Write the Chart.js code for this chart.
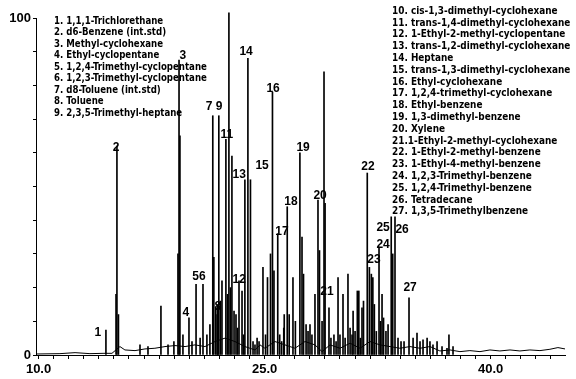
<!DOCTYPE html>
<html><head><meta charset="utf-8">
<script src="https://cdn.jsdelivr.net/npm/chart.js@4.4.1/dist/chart.umd.min.js"></script>
<style>html,body{margin:0;padding:0;background:#fff}#wrap{width:576px;height:379px}</style>
</head><body><div id="wrap"><canvas id="c" width="576" height="379"></canvas></div>
<script>
// Retention time (min) and relative abundance of the peaks
const peakTimes = [14.47,15.14,15.20,15.30,16.73,17.26,18.12,18.59,18.98,19.25,19.32,19.38,19.58,19.98,20.18,20.45,20.72,20.91,21.17,21.37,
  21.56,21.63,21.76,21.85,21.89,21.96,22.07,22.17,22.43,22.54,22.63,22.73,22.83,22.97,23.10,23.20,23.30,23.50,23.60,23.69,23.89,24.06,
  24.23,24.36,24.50,24.63,24.89,25.06,25.19,25.39,25.52,25.62,25.87,26.00,26.13,26.27,26.30,26.50,26.63,26.88,27.04,27.34,27.48,27.58,
  27.75,27.88,28.01,28.14,28.34,28.54,28.64,28.81,28.94,29.01,29.27,29.40,29.60,29.74,29.87,30.00,30.20,30.34,30.53,30.67,30.80,30.87,
  31.00,31.15,31.25,31.35,31.46,31.56,31.81,31.95,32.08,32.18,32.28,32.41,32.59,32.69,32.79,32.89,33.05,33.19,33.40,33.50,33.65,33.85,
  34.05,34.25,34.58,34.85,35.11,35.31,35.51,35.78,35.97,36.17,36.44,36.77,37.10,37.23,37.50];
const peakHeights = [7.4,18,62,12,3,2.5,14.5,3,4,30,87.5,65,6,11,4,21,5,21,6,9,
  71,29,14,12,15,71,16,22,64,18,101.5,20,59,13,12,8,22,19,6,52,88,52,
  4,3,5,4,26,6,23,30,78,25,36,6,4,8,12,44,12,23,10,60,35,24,
  9,7,9,6,18,46,31,10,84,45,14,5,6,4,23,6,18,5,24,8,6,13,
  7,19,19,5,14,16,54,26,24,23,15,7,32,10,18,11,7,9,41,30,41,5,
  4,4,17,5,6.5,4,4.5,5,4,3,4,2.5,2,6,2.5];
// Baseline of the trace
const baseTimes = [9.83,11.42,12.42,13.41,14.34,14.87,15.40,15.73,16.40,17.06,17.72,18.39,19.05,19.72,20.38,21.04,21.71,22.37,23.03,23.69,
  24.36,24.69,25.02,25.68,26.35,27.01,27.68,28.34,28.81,29.34,30.00,30.67,31.33,31.99,32.65,33.32,33.98,34.64,35.31,35.97,36.63,37.30,
  37.96,38.62,39.29,39.95,40.61,41.28,41.94,42.60,43.27,43.93,44.46,44.93];
const baseValues = [0.3,0.4,0.7,0.4,0.5,0.5,2.5,1.5,1.3,1.8,2.0,2.5,2.8,2.5,3,2.5,4,5,4,2.5,
  1.5,3,2,4,3,2,4,3,1,3,2,3.5,2,4,3,2.5,2,2.5,2,2.5,1.2,1.5,
  1,1.3,1,1.5,1.2,1.5,1.2,1.5,1.3,1.7,2.2,1.8];
// Peak number labels: text, time and height where it sits
const labelText = ["1","2","3","4","56","7","8","9","11","12","13","14","15","16","17","18","19","20","21","22","23","24","25","26","27"];
const labelTime = [13.94,15.14,19.58,19.78,20.64,21.31,21.90,21.97,22.50,23.31,23.31,23.77,24.83,25.56,26.15,26.75,27.55,28.68,29.14,31.86,32.26,32.86,32.86,34.12,34.65];
const labelHeight = [6.5,61.4,88.7,12.5,23.1,73.6,14.2,73.6,65.3,22.3,53.4,89.9,56.1,78.9,36.5,45.4,61.4,47.2,18.7,55.8,28.2,32.6,37.7,37.1,19.9];
// Compound list
const legendLeft = ["1. 1,1,1-Trichlorethane","2. d6-Benzene (int.std)","3. Methyl-cyclohexane","4. Ethyl-cyclopentane",
  "5. 1,2,4-Trimethyl-cyclopentane","6. 1,2,3-Trimethyl-cyclopentane","7. d8-Toluene (int.std)","8. Toluene","9. 2,3,5-Trimethyl-heptane"];
const legendRight = ["10. cis-1,3-dimethyl-cyclohexane","11. trans-1,4-dimethyl-cyclohexane","12. 1-Ethyl-2-methyl-cyclopentane",
  "13. trans-1,2-dimethyl-cyclohexane","14. Heptane","15. trans-1,3-dimethyl-cyclohexane","16. Ethyl-cyclohexane",
  "17. 1,2,4-trimethyl-cyclohexane","18. Ethyl-benzene","19. 1,3-dimethyl-benzene","20. Xylene","21.1-Ethyl-2-methyl-cyclohexane",
  "22. 1-Ethyl-2-methyl-benzene","23. 1-Ethyl-4-methyl-benzene","24. 1,2,3-Trimethyl-benzene","25. 1,2,4-Trimethyl-benzene",
  "26. Tetradecane","27. 1,3,5-Trimethylbenzene"];
const xLabels = [10, 25, 40];
const yLabels = [0, 100];

const NARROW = "'Liberation Sans Narrow','DejaVu Sans Condensed','Liberation Sans',sans-serif";
const annot = {
  id: 'annot',
  afterDatasetsDraw(chart) {
    const ctx = chart.ctx, xs = chart.scales.x, ys = chart.scales.y;
    ctx.save();
    ctx.fillStyle = '#000';
    ctx.textBaseline = 'middle';
    ctx.textAlign = 'center';
    ctx.font = "bold 12px 'Liberation Sans',Arial,sans-serif";
    labelText.forEach((t, i) => {
      ctx.fillText(t, xs.getPixelForValue(labelTime[i]), ys.getPixelForValue(labelHeight[i]));
    });
    ctx.textAlign = 'left';
    ctx.font = "bold 11px " + NARROW;
    const put = (t, x, y, k) => { ctx.save(); ctx.translate(x, y); ctx.scale(k, 1); ctx.fillText(t, 0, 0); ctx.restore(); };
    legendLeft.forEach((t, i) => put(t, 54, 21 + i * 11.5, 0.87));
    legendRight.forEach((t, i) => put(t, 392, 11 + i * 11.8, 0.9));
    ctx.restore();
  }
};

new Chart(document.getElementById('c'), {
  type: 'bar',
  data: {
    datasets: [
      { type: 'bar', data: peakTimes.map((t, i) => ({ x: t, y: peakHeights[i] })),
        backgroundColor: '#000', borderWidth: 0, barThickness: 1, clip: false, order: 2 },
      { type: 'line', data: baseTimes.map((t, i) => ({ x: t, y: baseValues[i] })),
        borderColor: '#000', borderWidth: 1, pointRadius: 0, tension: 0, fill: false, order: 1 }
    ]
  },
  options: {
    responsive: false, animation: false,
    layout: { padding: { top: 18, right: 11, left: 0, bottom: 0 } },
    plugins: { legend: { display: false }, tooltip: { enabled: false } },
    scales: {
      x: {
        type: 'linear', min: 9.83, max: 44.93, offset: false,
        afterFit: s => { s.height = 24; },
        border: { display: true, color: '#000', width: 1 },
        grid: { display: true, drawOnChartArea: false, drawTicks: true, tickLength: 4, color: '#000', offset: false },
        ticks: { stepSize: 1, includeBounds: false, autoSkip: false, maxRotation: 0, padding: 3, color: '#000',
          font: { family: "'Liberation Sans',Arial,sans-serif", size: 13, weight: 'bold' },
          callback: v => xLabels.includes(Math.round(v * 100) / 100) ? v.toFixed(1) : '' }
      },
      y: {
        min: 0, max: 100,
        afterFit: s => { s.width = 36; },
        border: { display: true, color: '#000', width: 1 },
        grid: { display: true, drawOnChartArea: false, drawTicks: true, tickLength: 3, color: '#000' },
        ticks: { stepSize: 10, autoSkip: false, padding: 2, color: '#000',
          font: { family: "'Liberation Sans',Arial,sans-serif", size: 13, weight: 'bold' },
          callback: v => yLabels.includes(v) ? String(v) : '' }
      }
    }
  },
  plugins: [annot]
});
</script></body></html>
